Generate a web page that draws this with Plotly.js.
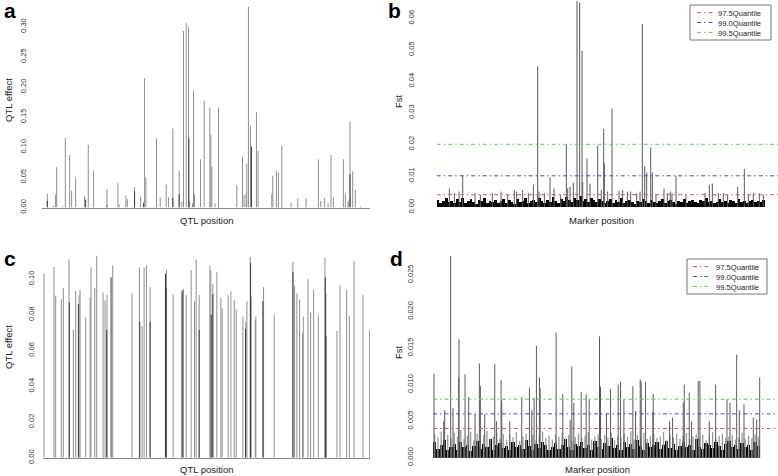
<!DOCTYPE html>
<html><head><meta charset="utf-8">
<script src="https://cdn.plot.ly/plotly-3.0.1.min.js"></script>
<style>html,body{margin:0;padding:0;background:#fff}#chart{width:778px;height:476px}</style>
</head><body><div id="chart"></div>
<script>
// ---------- Panel a : QTL effects ----------
const aGreyPos = [16.2,34.5,41.6,44.7,62.9,71.1,84.3,90.4,102.5,130.0,141.1,157.4,198.0,231.5,235.5,255.8,259.9,282.2,300.5,312.7,316.8,335.0,349.2,360.4,378.7,385.8,399.0,418.3,426.4,431.5,439.6,446.7,449.7,458.9,461.9,465.0,483.2,494.4,511.7,514.7,517.8,527.9,538.1,593.9,611.2,616.2,622.3,624.4,629.4,635.5,653.8,658.9,700.5,703.6,714.7,720.8,731.0,759.4,779.7,805.1,842.6,849.7,860.9,872.1,881.2,888.3,918.8,924.9,933.0,936.0,939.1,947.2,955.3,971.6];
const aGreyVal = [0.023,0.003,0.022,0.067,0.002,0.115,0.087,0.028,0.050,0.019,0.104,0.061,0.031,0.041,0.005,0.020,0.014,0.033,0.018,0.215,0.050,0.001,0.115,0.017,0.038,0.017,0.131,0.061,0.010,0.293,0.306,0.300,0.010,0.007,0.194,0.022,0.080,0.177,0.166,0.121,0.068,0.007,0.166,0.037,0.084,0.021,0.023,0.073,0.333,0.135,0.158,0.094,0.022,0.053,0.061,0.058,0.102,0.008,0.015,0.015,0.080,0.011,0.016,0.007,0.087,0.017,0.080,0.023,0.010,0.012,0.143,0.060,0.029,0.002];
const aDarkPos = [16.2,133.0,198.0,282.2,309.6,399.0,418.3,447.7,638.6,939.1];
const aDarkVal = [0.011,0.013,0.003,0.027,0.008,0.016,0.022,0.115,0.101,0.055];

// ---------- Panel b : Fst ----------
const bFloor = [0.0022,0.0014,0.0019,0.0028,0.0016,0.0021,0.0013,0.0025,0.0018,0.0031,0.0015,0.0020,0.0026,0.0017,0.0012,0.0023,0.0019,0.0029,0.0014,0.0021,0.0016,0.0024,0.0013,0.0019,0.0027,0.0015,0.0022,0.0018,0.0012,0.0025,0.0017,0.0021,0.0030,0.0014,0.0019,0.0023,0.0016,0.0028,0.0020,0.0013,0.0024,0.0018,0.0032,0.0021,0.0015,0.0026,0.0019,0.0034,0.0022,0.0017,0.0029,0.0024,0.0036,0.0020,0.0027,0.0018,0.0031,0.0023,0.0016,0.0025,0.0021,0.0013,0.0019,0.0026,0.0015,0.0022,0.0018,0.0028,0.0014,0.0020,0.0024,0.0017,0.0012,0.0021,0.0016,0.0027,0.0019,0.0013,0.0023,0.0018,0.0015,0.0020,0.0025,0.0014,0.0019,0.0022,0.0016,0.0012,0.0021,0.0018,0.0026,0.0015,0.0020,0.0024,0.0017,0.0013,0.0022,0.0019,0.0028,0.0016,0.0021,0.0014,0.0018,0.0025,0.0017,0.0020,0.0013,0.0023,0.0019,0.0015,0.0026,0.0018,0.0021,0.0014,0.0019,0.0024,0.0016,0.0020,0.0017,0.0022];
const bSpikePos = [38.6,53.8,68.0,79.2,116.8,133.0,169.5,195.9,216.2,236.5,243.7,261.9,279.2,294.4,307.6,311.7,327.9,345.2,357.4,377.7,394.9,399.0,406.1,416.2,427.4,435.5,442.6,444.7,457.9,467.0,490.4,501.5,508.6,510.7,520.8,534.0,555.3,566.5,580.7,590.9,609.1,619.3,626.4,633.5,639.6,651.8,656.9,668.0,692.4,702.5,711.7,716.8,728.9,759.4,817.3,830.5,839.6,857.9,873.1,886.3,916.8,937.1,949.2,964.5,982.7,994.9];
const bSpikeVal = [0.0060,0.0045,0.0050,0.0102,0.0045,0.0040,0.0045,0.0050,0.0040,0.0055,0.0050,0.0055,0.0045,0.0072,0.0447,0.0050,0.0045,0.0095,0.0060,0.0040,0.0198,0.0060,0.0065,0.0078,0.0655,0.0650,0.0497,0.0080,0.0155,0.0075,0.0196,0.0055,0.0249,0.0140,0.0050,0.0313,0.0052,0.0055,0.0050,0.0050,0.0045,0.0050,0.0582,0.0130,0.0110,0.0190,0.0110,0.0040,0.0060,0.0045,0.0050,0.0045,0.0100,0.0040,0.0045,0.0070,0.0075,0.0045,0.0045,0.0040,0.0065,0.0122,0.0040,0.0045,0.0045,0.0040];
const bQuantiles = [0.0040,0.0100,0.0200];

// ---------- Panel c : QTL effects ----------
const cGreyPos = [3.1,33.7,38.8,56.1,62.2,79.6,92.9,100.0,110.2,113.3,130.6,143.9,146.9,158.2,164.3,183.7,189.8,195.9,213.3,272.4,294.9,303.1,309.2,316.3,327.6,377.6,398.0,425.5,429.6,437.8,453.1,463.3,468.4,477.6,510.2,513.3,519.4,531.6,543.9,548.0,566.3,574.5,584.7,590.8,611.2,620.4,623.5,633.7,649.0,651.0,674.5,707.1,764.3,769.4,776.5,784.7,793.9,795.9,810.2,818.4,827.6,841.8,862.2,865.3,899.0,908.2,928.6,936.7,951.0,978.6,999.0];
const cGreyVal = [0.103,0.1067,0.0907,0.0886,0.095,0.111,0.0715,0.0935,0.091,0.094,0.0785,0.0897,0.1065,0.095,0.113,0.0925,0.088,0.091,0.1077,0.092,0.1065,0.0735,0.1065,0.1077,0.0955,0.105,0.0915,0.094,0.0945,0.091,0.105,0.0875,0.111,0.091,0.1075,0.105,0.097,0.104,0.0895,0.0835,0.091,0.093,0.0885,0.083,0.079,0.076,0.0875,0.1125,0.077,0.079,0.0955,0.080,0.1095,0.096,0.092,0.0885,0.070,0.079,0.100,0.081,0.094,0.080,0.112,0.092,0.071,0.0965,0.094,0.0795,0.110,0.091,0.0715];
const cDarkPos = [80.6,108.2,194.9,208.2,295.9,327.6,374.5,376.5,425.5,477.6,514.3,519.4,619.4,634.7,635.7,672.4,764.3,863.3,865.3];
const cDarkVal = [0.087,0.086,0.0715,0.101,0.076,0.076,0.103,0.095,0.093,0.0715,0.080,0.0915,0.072,0.109,0.090,0.0875,0.104,0.101,0.068];

// ---------- Panel d : Fst ----------
const dFloor = [0.0021,0.0012,0.0017,0.0024,0.0010,0.0015,0.0019,0.0011,0.0022,0.0014,0.0018,0.0009,0.0016,0.0023,0.0012,0.0019,0.0015,0.0026,0.0011,0.0017,0.0020,0.0013,0.0016,0.0010,0.0021,0.0014,0.0018,0.0012,0.0024,0.0016,0.0011,0.0019,0.0013,0.0022,0.0017,0.0010,0.0015,0.0020,0.0012,0.0018,0.0025,0.0014,0.0011,0.0019,0.0016,0.0021,0.0013,0.0017,0.0010,0.0023,0.0015,0.0012,0.0020,0.0016,0.0027,0.0013,0.0018,0.0011,0.0022,0.0015,0.0019,0.0012,0.0024,0.0016,0.0010,0.0020,0.0014,0.0018,0.0021,0.0012,0.0017,0.0023,0.0013,0.0019,0.0011,0.0016,0.0022,0.0014,0.0018,0.0010,0.0025,0.0015,0.0012,0.0020,0.0017,0.0013,0.0021,0.0016,0.0011,0.0019,0.0023,0.0014,0.0017,0.0012,0.0020,0.0015,0.0018,0.0011,0.0022,0.0016];
const dGreyFloor = [0.0032,0.0028,0.0036,0.0025,0.0031,0.0027,0.0034,0.0029,0.0038,0.0026,0.0030,0.0035,0.0024,0.0033,0.0028,0.0031,0.0037,0.0026,0.0029,0.0034,0.0027,0.0032,0.0025,0.0030,0.0028,0.0035,0.0023,0.0029,0.0033,0.0026,0.0031,0.0024,0.0028,0.0036,0.0027,0.0030,0.0025,0.0032,0.0029,0.0034,0.0026,0.0031,0.0023,0.0028,0.0033,0.0027,0.0030,0.0035,0.0025,0.0029,0.0032,0.0026,0.0031,0.0028,0.0034,0.0024,0.0030,0.0027,0.0033,0.0029,0.0036,0.0025,0.0031,0.0028,0.0034,0.0026,0.0030,0.0032,0.0027,0.0029,0.0035,0.0024,0.0031,0.0028,0.0033,0.0026,0.0030,0.0034,0.0025,0.0029,0.0032,0.0027,0.0031,0.0024,0.0028,0.0035,0.0026,0.0030,0.0033,0.0027,0.0029,0.0031,0.0025,0.0028,0.0034,0.0026,0.0030,0.0027,0.0032,0.0029];
const dSpikePos = [3.1,32.7,35.7,54.1,61.2,78.6,79.6,98.0,109.2,128.6,141.8,144.9,158.2,188.8,193.9,208.2,210.2,234.7,271.4,294.9,302.0,309.2,316.3,325.5,327.6,376.5,396.9,419.4,424.5,430.6,453.1,468.4,477.6,509.2,512.2,530.6,542.9,566.3,573.5,583.7,611.2,619.4,633.7,636.7,650.0,672.4,673.5,723.5,732.7,765.3,768.4,783.7,790.8,811.2,816.3,844.9,864.3,899.0,908.2,928.6,936.7,951.0,979.6,989.8,999.0];
const dSpikeVal = [0.0115,0.0050,0.0065,0.0276,0.0068,0.0110,0.0162,0.0114,0.0083,0.0060,0.0129,0.0098,0.0060,0.0128,0.0050,0.0106,0.0078,0.0050,0.0083,0.0096,0.0065,0.0082,0.0153,0.0110,0.0095,0.0171,0.0087,0.0052,0.0125,0.0075,0.0090,0.0087,0.0080,0.0166,0.0097,0.0060,0.0094,0.0100,0.0104,0.0080,0.0098,0.0064,0.0107,0.0104,0.0104,0.0063,0.0087,0.0050,0.0055,0.0076,0.0100,0.0089,0.0050,0.0105,0.0105,0.0050,0.0100,0.0080,0.0075,0.0141,0.0065,0.0073,0.0055,0.0052,0.0110];
const dQuantiles = [0.0040,0.0060,0.0080];

const quantNames = ['97.5Quantile','99.0Quantile','99.5Quantile'];
const quantColors = ['rgb(238,70,70)','rgb(70,70,225)','rgb(70,215,70)'];

// ---------- helpers ----------
const W = 778, H = 476;
const px = x => x / W, py = y => 1 - y / H;
function stems(pos, val, xa, ya, color, w) {
  const x = [], y = [];
  pos.forEach((p, i) => { x.push(p, p, null); y.push(0, val[i], null); });
  return {type:'scatter', mode:'lines', x, y, xaxis:xa, yaxis:ya, line:{color, width:w||1}, hoverinfo:'skip', showlegend:false};
}
function floorPos(n) { const step = 1000 / n; return Array.from({length:n}, (_, i) => (i + 0.5) * step); }
function floorBars(vals, xa, ya, color) {
  const step = 1000 / vals.length;
  return {type:'bar', x: floorPos(vals.length), y: vals, width: step, xaxis:xa, yaxis:ya,
          marker:{color, line:{width:0}}, hoverinfo:'skip', showlegend:false};
}
function hline(val, xr, xa, ya, color, name) {
  return {type:'scatter', mode:'lines', x:[xr[0], xr[1]], y:[val, val], xaxis:xa, yaxis:ya, name,
          line:{color, width:1, dash:'4px,3px,1.5px,3px'}, hoverinfo:'skip', showlegend:false};
}

const xrB = [0, 1039.6], xrD = [0, 1055];
const traces = [
  stems(aGreyPos, aGreyVal, 'x', 'y', '#8e8e8e'),
  stems(aDarkPos, aDarkVal, 'x', 'y', '#3a3a3a'),
  floorBars(bFloor, 'x2', 'y2', '#000'),
  stems(bSpikePos, bSpikeVal, 'x2', 'y2', '#5a5a5a'),
  stems(cGreyPos, cGreyVal, 'x3', 'y3', '#8e8e8e'),
  stems(cDarkPos, cDarkVal, 'x3', 'y3', '#3a3a3a'),
  stems(floorPos(dGreyFloor.length), dGreyFloor, 'x4', 'y4', '#9a9a9a', 1.3),
  stems(dSpikePos, dSpikeVal, 'x4', 'y4', '#5a5a5a'),
  floorBars(dFloor, 'x4', 'y4', '#000'),
];
bQuantiles.forEach((q,i)=>traces.push(hline(q, xrB, 'x2', 'y2', quantColors[i], quantNames[i])));
dQuantiles.forEach((q,i)=>traces.push(hline(q, xrD, 'x4', 'y4', quantColors[i], quantNames[i])));

const FONT = 'Liberation Sans, Arial, Helvetica, sans-serif';
const xBase = {showticklabels:false, ticks:'', showgrid:false, zeroline:false, fixedrange:true};
const yBase = {tick0:0, tickangle:-90, ticks:'outside', tickcolor:'rgba(0,0,0,0)', tickwidth:1,
               tickfont:{size:7.5, color:'#333', family:FONT}, showgrid:false, zeroline:false, showline:false};

const annotations = [];
function txt(text, x, y, opts) {
  annotations.push(Object.assign({text, x:px(x), y:py(y), xref:'paper', yref:'paper', showarrow:false,
    xanchor:'center', yanchor:'middle', font:{family:FONT, size:9.5, color:'#222'}}, opts||{}));
}
// axis titles
txt('QTL effect', 8, 100, {textangle:-90});
txt('QTL position', 207, 220);
txt('Fst', 398, 101, {textangle:-90});
txt('Marker position', 601, 220);
txt('QTL effect', 8, 347, {textangle:-90});
txt('QTL position', 207, 469);
txt('Fst', 398, 352, {textangle:-90});
txt('Marker position', 597, 469);
// panel letters
const letterFont = {family:FONT, size:21, color:'#000', weight:'bold'};
txt('<b>a</b>', 2, 10.5, {xanchor:'left', font:letterFont});
txt('<b>b</b>', 386, 10.5, {xanchor:'left', font:letterFont});
txt('<b>c</b>', 2, 258, {xanchor:'left', font:letterFont});
txt('<b>d</b>', 388, 258, {xanchor:'left', font:letterFont});

// custom legends (one text block per legend)
const shapes = [];
const LFS = 7.6, LSP = LFS * 1.3;
function legend(box, sx0, sx1, tx) {
  const cy = (box[2] + box[3]) / 2;
  shapes.push({type:'rect', xref:'paper', yref:'paper', x0:px(box[0]), x1:px(box[1]), y0:py(box[3]), y1:py(box[2]),
               line:{color:'#777', width:1}, fillcolor:'rgba(255,255,255,1)'});
  quantNames.forEach((n, i) => {
    const ry = cy + (i - 1) * LSP;
    shapes.push({type:'line', xref:'paper', yref:'paper', x0:px(sx0), x1:px(sx1), y0:py(ry), y1:py(ry),
                 line:{color:quantColors[i], width:1, dash:'4px,3px,1.5px,3px'}});
  });
  txt(quantNames.join('<br>'), tx, cy + 0.6, {xanchor:'left', align:'left', borderpad:0, font:{family:FONT, size:LFS, color:'#222'}});
}
legend([690, 771, 5, 40], 697, 713, 717);
legend([687, 767, 259, 294], 693, 708, 715);

const layout = {
  width: W, height: H, margin:{l:0, r:0, t:0, b:0}, paper_bgcolor:'#fff', plot_bgcolor:'rgba(0,0,0,0)',
  showlegend:false, barmode:'overlay', bargap:0, font:{family:FONT},
  xaxis: Object.assign({}, xBase, {domain:[px(42), px(370)], range:[0,1000], anchor:'y', showline:true, linecolor:'#8a8a8a', linewidth:1}),
  yaxis: Object.assign({}, yBase, {domain:[py(207.5), py(5)], range:[0, 202.5/602.7], dtick:0.05, tickformat:'.2f', ticklen:12, anchor:'x'}),
  xaxis2: Object.assign({}, xBase, {domain:[px(436.7), 1], range:xrB, anchor:'y2'}),
  yaxis2: Object.assign({}, yBase, {domain:[py(207.3), 1], range:[0, 0.0658], dtick:0.01, tickformat:'.2f', ticklen:19, anchor:'x2'}),
  xaxis3: Object.assign({}, xBase, {domain:[px(43), px(370)], range:[0,1000], anchor:'y3', showline:true, linecolor:'#8a8a8a', linewidth:1}),
  yaxis3: Object.assign({}, yBase, {domain:[py(457.7), py(250)], range:[0, 207.7/1787], dtick:0.02, tickformat:'.2f', ticklen:5, anchor:'x3'}),
  xaxis4: Object.assign({}, xBase, {domain:[px(433), 1], range:xrD, anchor:'y4'}),
  yaxis4: Object.assign({}, yBase, {domain:[py(457.7), py(250)], range:[0, 207.7/7308], dtick:0.005, tickformat:'.3f', ticklen:16, anchor:'x4'}),
  annotations, shapes
};
Plotly.newPlot('chart', traces, layout, {displayModeBar:false, staticPlot:true});
</script></body></html>
